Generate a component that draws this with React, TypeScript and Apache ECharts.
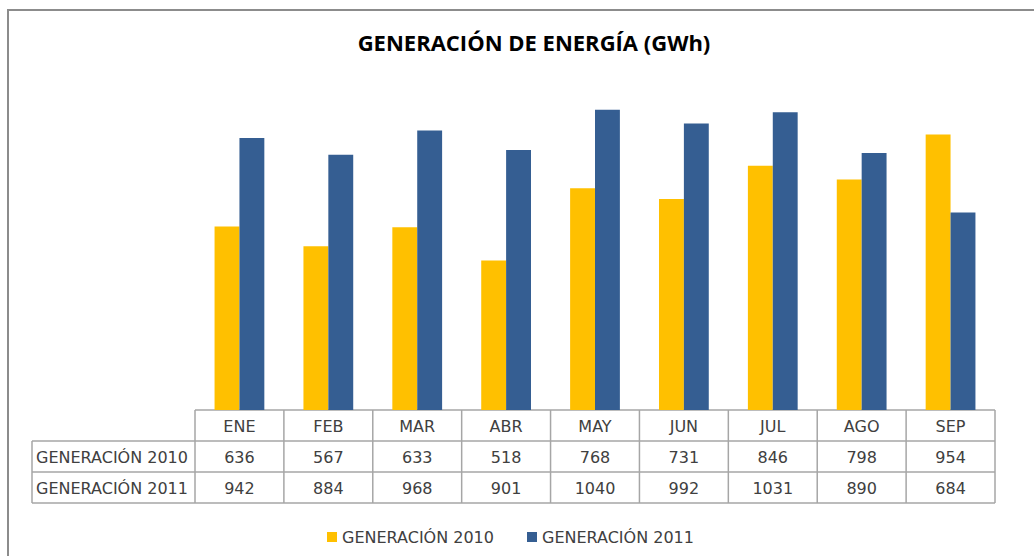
import React, { useEffect, useRef } from "react";
import * as echarts from "echarts";

const categories = ["ENE", "FEB", "MAR", "ABR", "MAY", "JUN", "JUL", "AGO", "SEP"];
const seriesNames = ["GENERACIÓN 2010", "GENERACIÓN 2011"];
const gen2010 = [636, 567, 633, 518, 768, 731, 846, 798, 954];
const gen2011 = [942, 884, 968, 901, 1040, 992, 1031, 890, 684];
const titleText = "GENERACIÓN DE ENERGÍA (GWh)";

const W = 1034;
const H = 556;
const GRID_LEFT = 195;
const GRID_RIGHT = 995;
const BASE_Y = 410;
const ROW_H = 31;
const LABEL_LEFT = 32;
const LINE_COLOR = "#a6a6a6";
const TEXT_COLOR = "#404040";
const FONT = "'DejaVu Sans', sans-serif";
const TITLE_FONT = "'Open Sans', sans-serif";

function buildTable() {
  const els: any[] = [];
  const n = categories.length;
  const colW = (GRID_RIGHT - GRID_LEFT) / n;
  const rows = [gen2010, gen2011];
  const bottom = BASE_Y + ROW_H * 3;
  const line = (x1: number, y1: number, x2: number, y2: number) => ({
    type: "line",
    shape: { x1, y1, x2, y2 },
    style: { stroke: LINE_COLOR, lineWidth: 1.5 },
    silent: true,
  });
  els.push(line(GRID_LEFT, BASE_Y, GRID_RIGHT, BASE_Y));
  for (let r = 1; r <= 3; r++) {
    els.push(line(LABEL_LEFT, BASE_Y + ROW_H * r, GRID_RIGHT, BASE_Y + ROW_H * r));
  }
  els.push(line(LABEL_LEFT, BASE_Y + ROW_H, LABEL_LEFT, bottom));
  for (let c = 0; c <= n; c++) {
    const x = GRID_LEFT + colW * c;
    els.push(line(x, BASE_Y, x, bottom));
  }
  const txt = (x: number, y: number, t: string, align: string) => ({
    type: "text",
    x,
    y,
    silent: true,
    style: {
      text: t,
      fill: TEXT_COLOR,
      font: `16px ${FONT}`,
      textAlign: align,
      textVerticalAlign: "middle",
    },
  });
  categories.forEach((cat, i) => {
    const cx = GRID_LEFT + colW * (i + 0.5);
    els.push(txt(cx, BASE_Y + ROW_H * 0.5 + 1, cat, "center"));
    rows.forEach((arr, r) => {
      els.push(txt(cx, BASE_Y + ROW_H * (r + 1.5) + 1, String(arr[i]), "center"));
    });
  });
  seriesNames.forEach((name, r) => {
    els.push(txt(LABEL_LEFT + 4, BASE_Y + ROW_H * (r + 1.5) + 1, name, "left"));
  });
  return els;
}

export default function App() {
  const ref = useRef<HTMLDivElement>(null);
  useEffect(() => {
    if (!ref.current) return;
    const chart = echarts.init(ref.current, null, { renderer: "svg" });
    chart.setOption({
      animation: false,
      backgroundColor: "#ffffff",
      title: {
        text: titleText,
        left: 529,
        textAlign: "center",
        top: 26,
        textStyle: { fontFamily: TITLE_FONT, fontWeight: "bold", fontSize: 22, color: "#000" },
      },
      legend: {
        data: seriesNames,
        left: 322,
        top: 524,
        itemWidth: 10,
        itemHeight: 10,
        itemGap: 33,
        icon: "rect",
        textStyle: { fontFamily: FONT, fontSize: 16, color: TEXT_COLOR },
      },
      grid: { left: GRID_LEFT, right: W - GRID_RIGHT, top: BASE_Y - 1200 * 0.2887, bottom: H - BASE_Y },
      xAxis: {
        type: "category",
        data: categories,
        axisLine: { show: false },
        axisTick: { show: false },
        axisLabel: { show: false },
      },
      yAxis: {
        type: "value",
        min: 0,
        max: 1200,
        interval: 200,
        show: false,
        splitLine: { show: false },
      },
      series: [
        {
          name: seriesNames[0],
          type: "bar",
          data: gen2010,
          itemStyle: { color: "#ffc000" },
          barGap: "0%",
          barCategoryGap: "44%",
        },
        {
          name: seriesNames[1],
          type: "bar",
          data: gen2011,
          itemStyle: { color: "#355e92" },
          barGap: "0%",
          barCategoryGap: "44%",
        },
      ],
      graphic: [
        {
          type: "rect",
          shape: { x: 8, y: 10, width: 1040, height: 560 },
          style: { fill: "none", stroke: "#8c8c8c", lineWidth: 2 },
          silent: true,
        },
        ...buildTable(),
      ],
    });
    return () => chart.dispose();
  }, []);
  return (
    <div
      ref={ref}
      style={{ position: "fixed", left: 0, top: 0, width: W, height: H }}
    />
  );
}
